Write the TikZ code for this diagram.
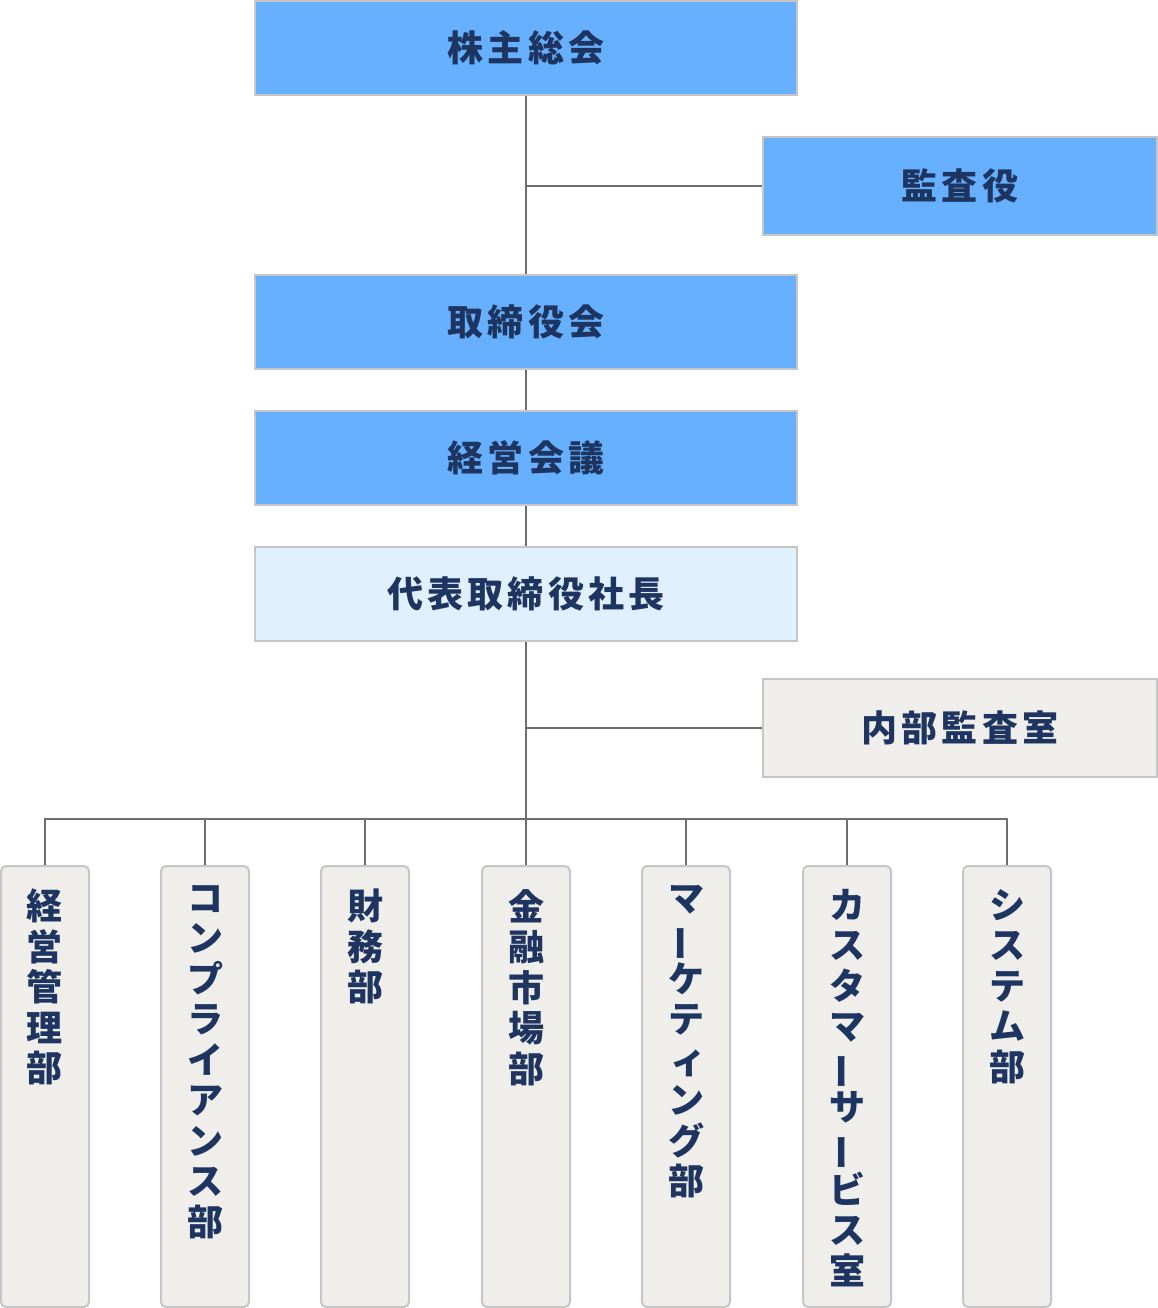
\documentclass[tikz,border=0pt]{standalone}
\usepackage{fontspec}
\usepackage{graphicx}
\newfontfamily\jp{Noto Sans CJK JP}[LetterSpace=12]
\newfontfamily\jpv{Noto Sans CJK JP}
\definecolor{blueF}{HTML}{66B0FF}
\definecolor{lightF}{HTML}{E1F0FF}
\definecolor{grayF}{HTML}{EFEEEA}
\definecolor{borderC}{HTML}{C6C6C6}
\definecolor{lineC}{HTML}{6E6E6E}
\definecolor{navy}{HTML}{1F3561}
\newcommand\vbar{\rotatebox[origin=c]{90}{ー}}
\newcommand\smi{\hspace*{0.12em}ィ}
\begin{document}
\begin{tikzpicture}[x=1pt,y=-1pt,
  box/.style={rectangle, draw=borderC, line width=2pt, text=navy,
    font=\jp\bfseries\fontsize{36}{40}\selectfont, inner sep=0pt},
  widebox/.style={box, minimum width=542pt, minimum height=94pt},
  sidebox/.style={box, minimum width=394pt, minimum height=98pt},
  deptbox/.style={rectangle, rounded corners=5pt, draw=borderC, line width=2pt,
    fill=grayF, minimum width=88pt, minimum height=441pt, anchor=north, inner sep=0pt},
  depttext/.style={anchor=north, align=center, text=navy, inner sep=0pt,
    font=\jpv\bfseries\fontsize{36}{40.5}\selectfont},
  conn/.style={draw=lineC, line width=2pt}]
\useasboundingbox (0,0) rectangle (1158,1308);

\node[widebox, fill=blueF] (agm) at (526,48) {株主総会};
\node[sidebox, fill=blueF] (aud) at (960,186) {監査役};
\node[widebox, fill=blueF] (board) at (526,322) {取締役会};
\node[widebox, fill=blueF] (mgmt) at (526,458) {経営会議};
\node[widebox, fill=lightF] (ceo) at (526,594) {代表取締役社長};
\node[sidebox, fill=grayF] (ia) at (960,728) {内部監査室};

\coordinate (bus) at (526,819);

\node[deptbox] (d1) at (45,865) {};
\node[deptbox] (d2) at (205,865) {};
\node[deptbox] (d3) at (365,865) {};
\node[deptbox] (d4) at (526,865) {};
\node[deptbox] (d5) at (686,865) {};
\node[deptbox] (d6) at (847,865) {};
\node[deptbox] (d7) at (1007,865) {};

\node[depttext] (t1) at ([yshift=-24pt]d1.north) {経\\営\\管\\理\\部};
\node[depttext] (t2) at ([yshift=-20pt]d2.north) {コ\\ン\\プ\\ラ\\イ\\ア\\ン\\ス\\部};
\node[depttext] (t3) at ([yshift=-24pt]d3.north) {財\\務\\部};
\node[depttext] (t4) at ([yshift=-24pt]d4.north) {金\\融\\市\\場\\部};
\node[depttext] (t5) at ([yshift=-20pt]d5.north) {マ\\\vbar\\ケ\\テ\\\smi\\ン\\グ\\部};
\node[depttext] (t6) at ([yshift=-24pt]d6.north) {カ\\ス\\タ\\マ\\\vbar\\サ\\\vbar\\ビ\\ス\\室};
\node[depttext] (t7) at ([yshift=-24pt]d7.north) {シ\\ス\\テ\\ム\\部};

\draw[conn] (agm.south) -- (board.north);
\draw[conn] (board.south) -- (mgmt.north);
\draw[conn] (mgmt.south) -- (ceo.north);
\draw[conn] (ceo.south) -- (bus);
\draw[conn] (aud.west) -- (aud.west -| agm.south);
\draw[conn] (ia.west) -- (ia.west -| ceo.south);
\draw[conn] (d1.north) -- (d1.north |- bus) -- (d7.north |- bus) -- (d7.north);
\foreach \d in {d2,d3,d4,d5,d6} \draw[conn] (\d.north) -- (\d.north |- bus);
\end{tikzpicture}
\end{document}
